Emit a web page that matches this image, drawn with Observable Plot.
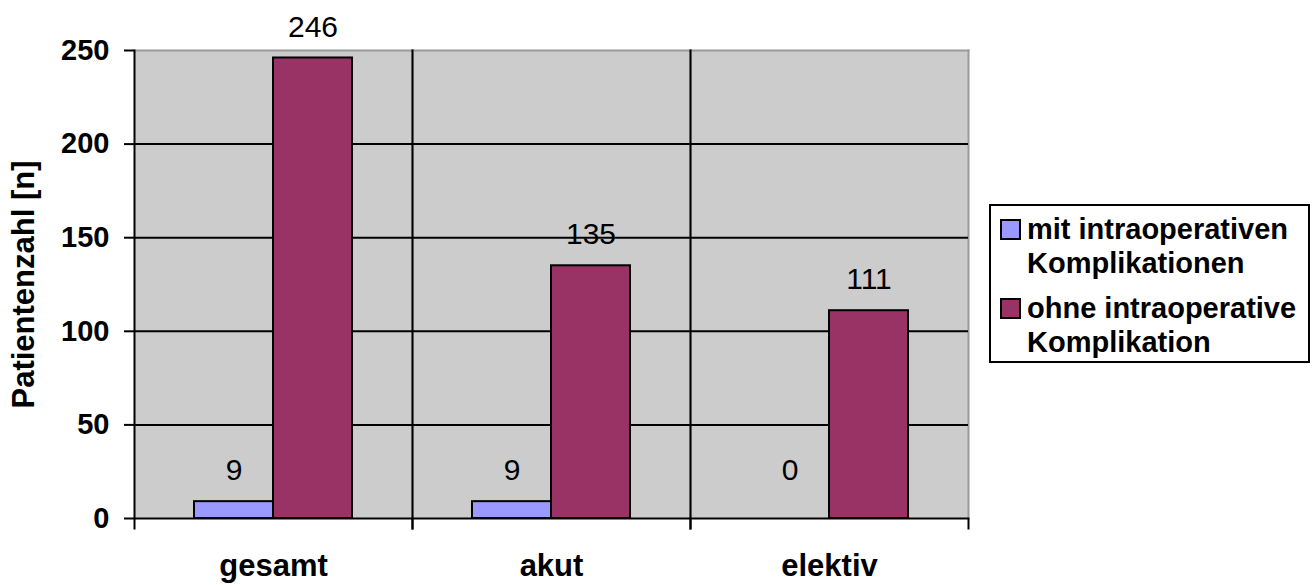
<!DOCTYPE html>
<html>
<head>
<meta charset="utf-8">
<script src="https://cdn.jsdelivr.net/npm/d3@7"></script>
<script src="https://cdn.jsdelivr.net/npm/@observablehq/plot@0.6"></script>
<style>
  html, body { margin: 0; padding: 0; background: #fff; }
  #wrap { position: relative; width: 1314px; height: 585px; font-family: "Liberation Sans", Arial, sans-serif; }
  #legend { position: absolute; left: 989px; top: 204px; width: 321px; height: 159px; box-sizing: border-box;
            border: 2px solid #000; background: #fff; padding: 6px 0 0 9px; font-weight: bold; font-size: 29px; line-height: 34px; color: #000; }
  .item { display: flex; align-items: flex-start; margin-bottom: 11px; }
  .sw { width: 21px; height: 21px; box-sizing: border-box; border: 2px solid #000; margin-top: 7px; margin-right: 6px; flex: none; }
</style>
</head>
<body>
<div id="wrap"></div>
<script>
const categories = ["gesamt", "akut", "elektiv"];
const series = ["mit intraoperativen Komplikationen", "ohne intraoperative Komplikation"];
const seriesLines = [["mit intraoperativen", "Komplikationen"], ["ohne intraoperative", "Komplikation"]];
const mitValues = [9, 9, 0];
const ohneValues = [246, 135, 111];
const yTicks = [0, 50, 100, 150, 200, 250];
const colors = ["#9999FF", "#993366"];
const yTitle = "Patientenzahl [n]";
const labelFloor = 9;

const data = [];
categories.forEach((c, i) => {
  data.push({category: c, series: series[0], value: mitValues[i]});
  data.push({category: c, series: series[1], value: ohneValues[i]});
});

const W = 1314, H = 585, mL = 134, mR = 346, mT = 50, mB = 67;
const font = "Liberation Sans, Arial, sans-serif";

const chart = Plot.plot({
  width: W, height: H,
  marginLeft: mL, marginRight: mR, marginTop: mT, marginBottom: mB,
  style: {fontFamily: font, background: "transparent", color: "#000"},
  fx: {domain: categories, padding: 0, paddingInner: 0, paddingOuter: 0, label: null},
  x: {domain: series, paddingInner: 0, paddingOuter: 0.74, axis: null},
  y: {domain: [0, 250], label: null},
  color: {domain: series, range: colors},
  marks: [
    Plot.frame({fill: "#CCCCCC", stroke: null}),
    Plot.frame({anchor: "top", stroke: "#999999", strokeWidth: 2}),
    Plot.frame({anchor: "right", stroke: "#999999", strokeWidth: 2}),
    Plot.ruleY(yTicks.filter(t => t > 0 && t < 250), {stroke: "#000", strokeWidth: 2}),
    Plot.frame({anchor: "left", stroke: "#000", strokeWidth: 2, insetBottom: -10}),
    Plot.frame({anchor: "right", stroke: "#000", strokeWidth: 2, insetTop: H - mT - mB, insetBottom: -10}),
    Plot.barY(data.filter(d => d.value > 0), {fx: "category", x: "series", y: "value", fill: "series", stroke: "#000", strokeWidth: 2}),
    Plot.ruleY([0], {stroke: "#000", strokeWidth: 2}),
    Plot.text(data, {fx: "category", x: "series", y: d => Math.max(d.value, labelFloor), text: d => String(d.value),
      dy: -31, lineAnchor: "middle", fontSize: 30, fill: "#000"}),
    Plot.axisY({ticks: yTicks, tickSize: 10, tickPadding: 15, strokeWidth: 2, fontSize: 29, fontWeight: "bold",
      label: null, tickFormat: d => String(d)}),
    Plot.axisY({ticks: [], tickSize: 0, fontSize: 31, fontWeight: "bold",
      label: yTitle, labelAnchor: "center", labelOffset: 123, labelArrow: "none"}),
    Plot.axisFx({anchor: "bottom", tickSize: 0, tickPadding: 35, fontSize: 31, fontWeight: "bold", label: null})
  ]
});

const wrap = document.getElementById("wrap");
wrap.appendChild(chart);

const legend = document.createElement("div");
legend.id = "legend";
series.forEach((s, i) => {
  const item = document.createElement("div");
  item.className = "item";
  const sw = document.createElement("div");
  sw.className = "sw";
  sw.style.background = colors[i];
  const tx = document.createElement("div");
  tx.innerHTML = seriesLines[i].join("<br>");
  item.appendChild(sw);
  item.appendChild(tx);
  legend.appendChild(item);
});
wrap.appendChild(legend);
</script>
</body>
</html>
